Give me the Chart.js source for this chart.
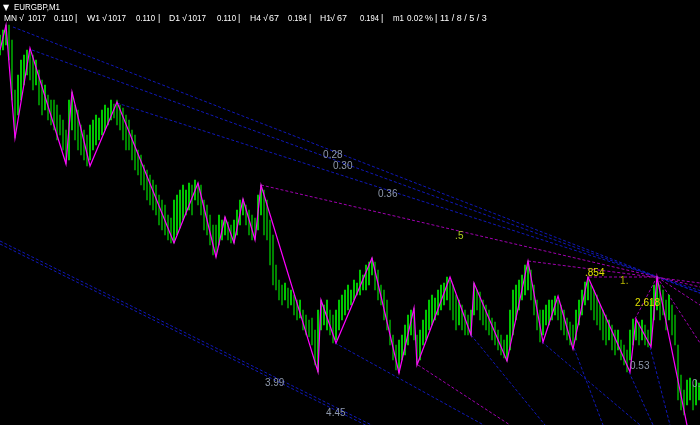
<!DOCTYPE html>
<html>
<head>
<meta charset="utf-8">
<script src="https://cdn.jsdelivr.net/npm/chart.js@4.4.0/dist/chart.umd.min.js"></script>
<style>
  html, body { margin: 0; padding: 0; background: #000; }
  #wrap { width: 700px; height: 425px; position: relative; }
</style>
</head>
<body>
<div id="wrap"><canvas id="chart"></canvas></div>
<script>
// EURGBP M1 bars: high / low per minute bar (index = bar number)
var barHigh = [
  0.86390,0.86395,0.86400,0.86400,0.86385,0.86335,0.86350,0.86365,0.86370,0.86375,
  0.86375,0.86370,0.86365,0.86355,0.86345,0.86340,0.86330,0.86325,0.86325,0.86320,
  0.86310,0.86305,0.86295,0.86325,0.86333,0.86320,0.86315,0.86300,0.86295,0.86290,
  0.86300,0.86305,0.86310,0.86307,0.86315,0.86320,0.86317,0.86325,0.86321,0.86325,
  0.86320,0.86317,0.86310,0.86305,0.86295,0.86290,0.86275,0.86270,0.86260,0.86255,
  0.86250,0.86245,0.86240,0.86230,0.86225,0.86220,0.86210,0.86207,0.86225,0.86230,
  0.86235,0.86240,0.86235,0.86242,0.86240,0.86245,0.86242,0.86240,0.86225,0.86220,
  0.86210,0.86200,0.86200,0.86210,0.86205,0.86208,0.86203,0.86200,0.86205,0.86215,
  0.86225,0.86226,0.86220,0.86215,0.86210,0.86207,0.86230,0.86240,0.86235,0.86225,
  0.86205,0.86190,0.86160,0.86145,0.86140,0.86142,0.86137,0.86135,0.86130,0.86125,
  0.86125,0.86115,0.86110,0.86105,0.86107,0.86095,0.86115,0.86125,0.86120,0.86125,
  0.86115,0.86110,0.86115,0.86125,0.86130,0.86135,0.86140,0.86135,0.86145,0.86142,
  0.86155,0.86150,0.86160,0.86163,0.86167,0.86163,0.86155,0.86140,0.86135,0.86125,
  0.86105,0.86090,0.86080,0.86085,0.86090,0.86100,0.86110,0.86115,0.86117,0.86090,
  0.86095,0.86105,0.86115,0.86125,0.86130,0.86127,0.86135,0.86140,0.86142,0.86148,
  0.86145,0.86140,0.86130,0.86125,0.86120,0.86115,0.86110,0.86115,0.86142,0.86135,
  0.86133,0.86125,0.86120,0.86115,0.86107,0.86103,0.86095,0.86090,0.86085,0.86090,
  0.86115,0.86135,0.86140,0.86145,0.86150,0.86160,0.86164,0.86155,0.86140,0.86125,
  0.86115,0.86115,0.86120,0.86125,0.86125,0.86129,0.86125,0.86120,0.86115,0.86107,
  0.86103,0.86100,0.86115,0.86125,0.86135,0.86143,0.86148,0.86140,0.86135,0.86130,
  0.86120,0.86115,0.86110,0.86105,0.86100,0.86095,0.86095,0.86085,0.86080,0.86075,
  0.86095,0.86106,0.86105,0.86103,0.86105,0.86100,0.86095,0.86125,0.86140,0.86148,
  0.86140,0.86135,0.86125,0.86130,0.86120,0.86110,0.86080,0.86050,0.86035,0.86045,
  0.86047,0.86040,0.86045,0.86042
];
var barLow = [
  0.86370,0.86375,0.86380,0.86365,0.86325,0.86287,0.86310,0.86325,0.86340,0.86350,
  0.86345,0.86335,0.86340,0.86320,0.86310,0.86315,0.86305,0.86300,0.86295,0.86285,
  0.86290,0.86275,0.86261,0.86265,0.86295,0.86285,0.86275,0.86270,0.86265,0.86259,
  0.86265,0.86275,0.86280,0.86285,0.86290,0.86295,0.86300,0.86305,0.86307,0.86300,
  0.86295,0.86285,0.86275,0.86275,0.86265,0.86255,0.86250,0.86240,0.86235,0.86225,
  0.86220,0.86215,0.86210,0.86200,0.86195,0.86190,0.86185,0.86182,0.86182,0.86190,
  0.86197,0.86205,0.86210,0.86215,0.86210,0.86225,0.86220,0.86210,0.86195,0.86190,
  0.86180,0.86170,0.86168,0.86180,0.86185,0.86190,0.86185,0.86182,0.86182,0.86190,
  0.86200,0.86210,0.86200,0.86190,0.86185,0.86185,0.86195,0.86210,0.86190,0.86185,
  0.86160,0.86140,0.86135,0.86125,0.86120,0.86125,0.86117,0.86120,0.86110,0.86105,
  0.86107,0.86095,0.86090,0.86088,0.86080,0.86060,0.86053,0.86095,0.86100,0.86095,
  0.86090,0.86082,0.86085,0.86095,0.86105,0.86110,0.86115,0.86120,0.86125,0.86130,
  0.86130,0.86135,0.86135,0.86140,0.86150,0.86135,0.86125,0.86120,0.86105,0.86095,
  0.86080,0.86065,0.86055,0.86052,0.86065,0.86070,0.86080,0.86090,0.86085,0.86060,
  0.86065,0.86080,0.86085,0.86095,0.86100,0.86105,0.86110,0.86115,0.86120,0.86125,
  0.86115,0.86105,0.86095,0.86100,0.86095,0.86090,0.86090,0.86090,0.86110,0.86115,
  0.86105,0.86100,0.86095,0.86090,0.86085,0.86080,0.86075,0.86070,0.86067,0.86064,
  0.86075,0.86090,0.86105,0.86115,0.86125,0.86130,0.86135,0.86125,0.86110,0.86095,
  0.86083,0.86090,0.86100,0.86100,0.86105,0.86110,0.86105,0.86095,0.86090,0.86085,
  0.86080,0.86076,0.86085,0.86100,0.86110,0.86120,0.86125,0.86115,0.86105,0.86100,
  0.86095,0.86085,0.86080,0.86085,0.86075,0.86070,0.86075,0.86065,0.86060,0.86053,
  0.86065,0.86080,0.86085,0.86080,0.86085,0.86080,0.86078,0.86080,0.86105,0.86115,
  0.86105,0.86110,0.86095,0.86105,0.86090,0.86080,0.86025,0.86015,0.86010,0.86020,
  0.86025,0.86015,0.86020,0.86025
];

// zigzag swing points (bar number, price)
var zzBar = [0,2,5,10,22,24,30,39,58,66,72,75,78,81,85,87,106,107,112,124,133,138,139,150,157,158,169,176,181,186,191,196,210,212,217,219,230];
var zzPrice = [0.86375,0.86400,0.86287,0.86377,0.86261,0.86333,0.86259,0.86323,0.86182,0.86242,
  0.86168,0.86208,0.86182,0.86226,0.86185,0.86240,0.86053,0.86125,0.86082,0.86167,
  0.86052,0.86117,0.86060,0.86148,0.86090,0.86142,0.86064,0.86164,0.86083,0.86129,
  0.86076,0.86148,0.86053,0.86106,0.86078,0.86148,0.85985];

// fan / fib lines: [bar from, price from, bar to, price to]
var blueLines = [
  [4.33, 0.86398, 240, 0.86124],
  [10.67, 0.86375, 240, 0.86125],
  [39, 0.86322, 240, 0.86128],
  [0, 0.86184, 140, 0.85976],
  [0, 0.86181, 140, 0.85973],
  [111.67, 0.86082, 166.67, 0.85991],
  [157, 0.86090, 181.67, 0.86000],
  [180.67, 0.86083, 213.33, 0.86000],
  [191.33, 0.86077, 201, 0.86000],
  [209.67, 0.86053, 217.67, 0.86000],
  [216.67, 0.86078, 223.33, 0.86000]
];
var purpleLines = [
  [87, 0.86240, 233.33, 0.86138],
  [176, 0.86164, 233.33, 0.86142],
  [196.33, 0.86148, 219, 0.86148],
  [211.67, 0.86106, 219, 0.86148],
  [219, 0.86148, 233.33, 0.86120],
  [219, 0.86148, 233.33, 0.86082],
  [139.33, 0.86060, 170, 0.86000]
];

// level labels
var labelText = ["0.28", "0.30", "0.36", ".5", ".854", "1.", "2.618", "0.53", "0.6", "3.99", "4.45"];
var labelBar = [107.7, 111, 126, 151.7, 195, 206.7, 211.7, 210, 230.7, 88.3, 108.7];
var labelPrice = [0.86270, 0.86259, 0.86231, 0.86189, 0.86152, 0.86144, 0.86122, 0.86059, 0.86041, 0.86042, 0.86012];
var labelColor = ["#8e98aa", "#8e98aa", "#8e98aa", "#b0d020", "#e0e000", "#b8b800", "#e0e000", "#8e98aa", "#8e98aa", "#8e98aa", "#8e98aa"];

// info line on top
var headerItems = [
  ["MN", 4, 13], ["\u221A", 19, 6], ["1017", 28, 18], ["0.110", 54, 19], ["|", 75, 3],
  ["W1", 87, 13], ["\u221A", 102, 6], ["1017", 108, 18], ["0.110", 136, 19], ["|", 158, 3],
  ["D1", 169, 11], ["\u221A", 182, 6], ["1017", 188, 18], ["0.110", 217, 19], ["|", 238, 3],
  ["H4", 250, 11], ["\u221A", 263, 6], ["67", 269, 10], ["0.194", 288, 19], ["|", 309, 3],
  ["H1", 320, 11], ["\u221A", 330, 6], ["67", 337, 10], ["0.194", 360, 19], ["|", 381, 3],
  ["m1", 393, 11], ["0.02", 407, 16], ["%", 425, 8], ["|", 435, 3], ["11 / 8 / 5 / 3", 440, 56]
];

var bars = barHigh.map(function (h, i) { return { x: i, y: [barLow[i], h] }; });
var barColors = barHigh.map(function (h, i) {
  if (i === 0) return "#00e000";
  var mid = (h + barLow[i]) / 2, prev = (barHigh[i - 1] + barLow[i - 1]) / 2;
  return mid >= prev ? "#00f000" : "#00a000";
});

function segment(l, color) {
  return {
    type: "line",
    data: [{ x: l[0], y: l[1] }, { x: l[2], y: l[3] }],
    borderColor: color,
    borderWidth: 1,
    borderDash: [3, 2],
    pointRadius: 0,
    fill: false,
    tension: 0
  };
}

var datasets = [
  {
    type: "line",
    data: zzBar.map(function (b, i) { return { x: b, y: zzPrice[i] }; }),
    borderColor: "#ff00ff",
    borderWidth: 1.2,
    pointRadius: 0,
    fill: false,
    tension: 0
  },
  {
    type: "bar",
    data: bars,
    backgroundColor: barColors,
    borderWidth: 0,
    barThickness: 1
  }
];
purpleLines.forEach(function (l) { datasets.push(segment(l, "#a000b0")); });
blueLines.forEach(function (l) { datasets.push(segment(l, "#1018b8")); });

var overlay = {
  id: "overlay",
  afterDatasetsDraw: function (chart) {
    var ctx = chart.ctx, xs = chart.scales.x, ys = chart.scales.y;
    ctx.save();
    ctx.textBaseline = "middle";
    ctx.textAlign = "left";
    ctx.font = '10px "Liberation Sans", Arial, sans-serif';
    labelText.forEach(function (t, i) {
      ctx.fillStyle = labelColor[i];
      ctx.fillText(t, xs.getPixelForValue(labelBar[i]), ys.getPixelForValue(labelPrice[i]));
    });
    ctx.fillStyle = "#ffffff";
    ctx.font = '8px "DejaVu Sans", sans-serif';
    ctx.fillText("\u25BC", 3, 8);
    ctx.font = '9px "Liberation Sans", Arial, sans-serif';
    ctx.fillText("EURGBP,M1", 14, 8, 46);
    headerItems.forEach(function (h) {
      ctx.fillText(h[0], h[1], 19, h[2]);
    });
    ctx.restore();
  }
};

new Chart(document.getElementById("chart"), {
  type: "bar",
  data: { datasets: datasets },
  options: {
    responsive: true,
    maintainAspectRatio: false,
    animation: false,
    layout: { padding: 0 },
    plugins: { legend: { display: false }, tooltip: { enabled: false } },
    scales: {
      x: { type: "linear", min: 0, max: 233.33, offset: false, display: false },
      y: { type: "linear", min: 0.86000, max: 0.86425, display: false }
    }
  },
  plugins: [overlay]
});
</script>
</body>
</html>
